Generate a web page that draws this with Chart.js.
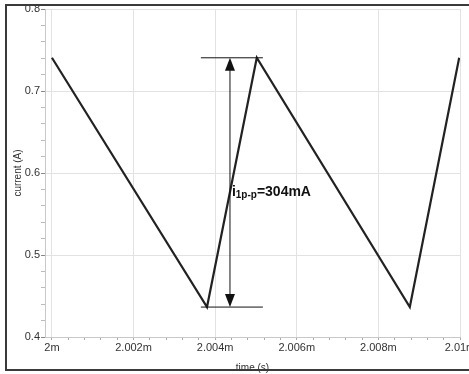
<!DOCTYPE html>
<html>
<head>
<meta charset="utf-8">
<script src="https://cdn.jsdelivr.net/npm/chart.js@4.4.1/dist/chart.umd.min.js"></script>
<style>
  html, body { margin: 0; padding: 0; background: #fff; overflow: hidden; }
  #wrap { position: relative; width: 469px; height: 374px; overflow: hidden; }
  #frame {
    position: absolute; left: 5px; top: 4px; width: 540px; height: 363px;
    border: 2px solid #3a3a3a; border-right: none; pointer-events: none;
  }
</style>
</head>
<body>
<div id="wrap">
  <canvas id="chart" width="469" height="374"></canvas>
  <div id="frame"></div>
</div>
<script>
// Waveform corners (time in ms, current in A)
const times = [2.0000, 2.0038, 2.00502, 2.00877, 2.00998];
const current = [0.7405, 0.4365, 0.7405, 0.4365, 0.7405];

// Axis setup
const xMin = 1.99983;
const xMax = 2.010;
const yMin = 0.4;
const yMax = 0.8;

// Peak-to-peak annotation
const ppTop = 0.7405;
const ppBottom = 0.4365;
const ppLineX = [2.00365, 2.00517];
const ppArrowX = 2.004363;
const ppLabelAt = [2.00441, 0.5719];

const isMajor = (v, step) => Math.abs(v / step - Math.round(v / step)) < 1e-6;

const annotationPlugin = {
  id: "ppAnnotation",
  afterDatasetsDraw(chart) {
    const { ctx, scales } = chart;
    const x = scales.x, y = scales.y;
    const yTop = y.getPixelForValue(ppTop);
    const yBot = y.getPixelForValue(ppBottom);
    const x0 = x.getPixelForValue(ppLineX[0]);
    const x1 = x.getPixelForValue(ppLineX[1]);
    const xa = x.getPixelForValue(ppArrowX);

    ctx.save();
    ctx.strokeStyle = "#111";
    ctx.fillStyle = "#111";
    ctx.lineWidth = 1;
    ctx.beginPath();
    ctx.moveTo(x0, yTop); ctx.lineTo(x1, yTop);
    ctx.moveTo(x0, yBot); ctx.lineTo(x1, yBot);
    ctx.moveTo(xa, yTop + 6); ctx.lineTo(xa, yBot - 6);
    ctx.stroke();

    // arrow heads
    ctx.beginPath();
    ctx.moveTo(xa, yTop); ctx.lineTo(xa - 5, yTop + 13); ctx.lineTo(xa + 5, yTop + 13);
    ctx.closePath(); ctx.fill();
    ctx.beginPath();
    ctx.moveTo(xa, yBot); ctx.lineTo(xa - 5, yBot - 13); ctx.lineTo(xa + 5, yBot - 13);
    ctx.closePath(); ctx.fill();

    // label: i(1p-p)=304mA
    let tx = x.getPixelForValue(ppLabelAt[0]);
    const ty = y.getPixelForValue(ppLabelAt[1]);
    ctx.textBaseline = "alphabetic";
    ctx.font = "bold 14px 'Liberation Sans', Arial, sans-serif";
    ctx.fillText("i", tx, ty);
    tx += ctx.measureText("i").width;
    ctx.font = "bold 10px 'Liberation Sans', Arial, sans-serif";
    ctx.fillText("1p-p", tx, ty + 2);
    tx += ctx.measureText("1p-p").width;
    ctx.font = "bold 14px 'Liberation Sans', Arial, sans-serif";
    ctx.fillText("=304mA", tx, ty);
    ctx.restore();
  },
};

new Chart(document.getElementById("chart"), {
  type: "line",
  data: {
    datasets: [
      {
        data: times.map((t, i) => ({ x: t, y: current[i] })),
        borderColor: "#222",
        borderWidth: 2.2,
        pointRadius: 0,
        tension: 0,
        fill: false,
      },
    ],
  },
  options: {
    responsive: false,
    animation: false,
    layout: { padding: { top: 9, right: 9, left: 0, bottom: 0 } },
    plugins: { legend: { display: false }, tooltip: { enabled: false } },
    scales: {
      x: {
        type: "linear",
        min: xMin,
        max: xMax,
        border: { display: true, color: "#c8c8c8" },
        grid: {
          color: (c) => (isMajor(c.tick.value, 0.002) ? "#e2e2e2" : "transparent"),
          tickColor: "#aaa",
          tickLength: 3,
        },
        ticks: {
          stepSize: 0.0004,
          autoSkip: false,
          includeBounds: false,
          maxRotation: 0,
          padding: 1,
          color: "#333",
          font: { family: "'Liberation Sans', Arial, sans-serif", size: 11 },
          callback: (v) => (isMajor(v, 0.002) ? Number(v.toFixed(3)) + "m" : ""),
        },
        title: {
          display: true,
          text: "time (s)",
          color: "#333",
          padding: { top: 0, bottom: 0 },
          font: { family: "'Liberation Sans', Arial, sans-serif", size: 10 },
        },
        afterFit: (s) => {
          s.height = 37;
          s.paddingLeft = 0;
          s.paddingRight = 0;
        },
      },
      y: {
        min: yMin,
        max: yMax,
        border: { display: true, color: "#c8c8c8" },
        grid: {
          color: (c) => (isMajor(c.tick.value, 0.1) ? "#e2e2e2" : "transparent"),
          tickColor: (c) => (isMajor(c.tick.value, 0.1) ? "#888" : "#bbb"),
          tickLength: 4,
        },
        ticks: {
          stepSize: 0.02,
          autoSkip: false,
          padding: 1,
          color: "#333",
          font: { family: "'Liberation Sans', Arial, sans-serif", size: 11 },
          callback: (v) => (isMajor(v, 0.1) ? v.toFixed(1) : ""),
        },
        title: {
          display: true,
          text: "current (A)",
          color: "#333",
          padding: { top: 12, bottom: 0 },
          font: { family: "'Liberation Sans', Arial, sans-serif", size: 10 },
        },
        afterFit: (s) => {
          s.width = 45;
          s.paddingTop = 0;
          s.paddingBottom = 0;
        },
      },
    },
  },
  plugins: [annotationPlugin],
});
</script>
</body>
</html>
